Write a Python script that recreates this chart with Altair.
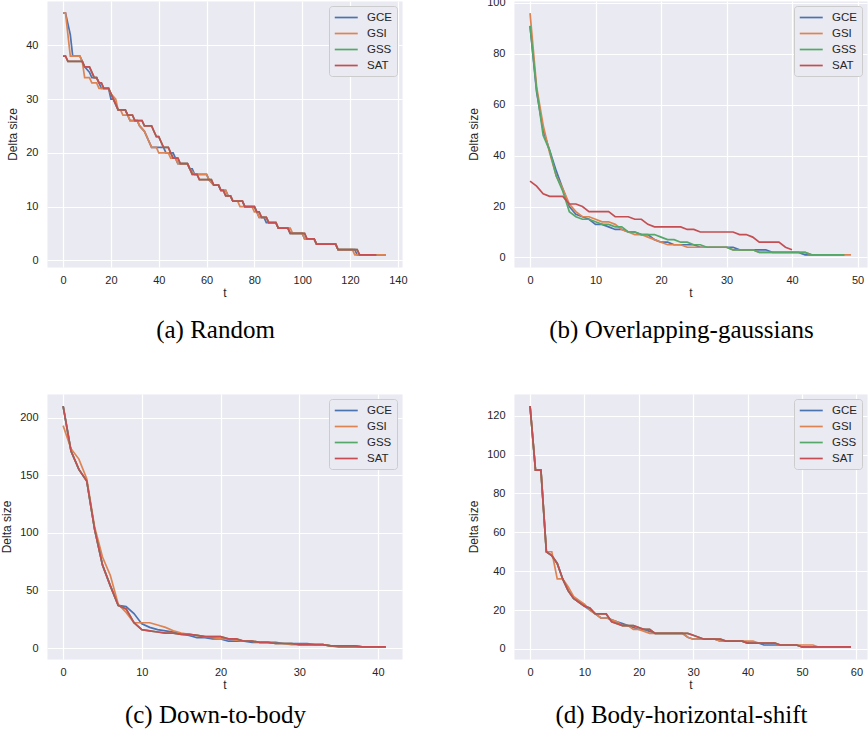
import altair as alt
import pandas as pd

SERIES = ["GCE", "GSI", "GSS", "SAT"]
COLORS = ["#4C72B0", "#DD8452", "#55A868", "#C44E52"]

# ---------------- (a) Random : corner points (t, value) ----------------
GCE_a_t = [0,1,2,3,4,7,8,9,11,12,14,15,16,19,20,21,22,23,26,27,28,31,32,34,35,37,42,43,46,47,48,52,53,54,55,60,61,63,65,66,68,69,70,71,75,76,80,81,82,84,85,89,90,94,95,100,101,105,106,114,115,122,123,135]
GCE_a_v = [46,46,44,42,38,38,37,36,35,34,34,33,32,32,30,30,29,28,28,27,26,26,25,24,23,21,21,20,20,19,18,18,17,17,16,16,15,14,14,13,13,12,12,11,11,10,10,9,8,8,7,7,6,6,5,5,4,4,3,3,2,2,1,1]
GSI_a_t = [0,1,3,7,8,9,11,12,14,15,19,20,22,23,24,25,27,28,31,32,34,35,37,39,40,44,45,47,48,52,53,55,60,61,63,65,66,68,69,70,71,73,74,79,80,81,82,85,86,89,90,95,96,100,101,105,106,114,115,121,122,135]
GSI_a_v = [46,46,38,38,37,34,34,33,33,32,32,31,30,28,28,27,27,26,26,25,24,23,21,21,20,20,19,19,18,18,17,16,16,15,14,14,13,13,12,12,11,11,10,10,9,9,8,8,7,7,6,6,5,5,4,4,3,3,2,2,1,1]
SAT_a_t = [0,1,2,8,9,11,12,13,14,15,16,17,19,20,21,22,23,26,27,29,30,33,34,37,38,39,40,41,42,44,45,46,48,49,52,53,54,56,57,62,63,65,66,67,68,70,71,75,76,80,81,82,83,85,86,89,90,94,95,101,102,105,106,114,115,123,124,131]
SAT_a_v = [38,38,37,37,36,36,35,34,34,33,33,32,32,31,30,29,28,28,27,27,26,26,25,25,24,23,23,22,21,21,20,19,19,18,18,17,16,16,15,15,14,14,13,13,12,12,11,11,10,10,9,9,8,8,7,7,6,6,5,5,4,4,3,3,2,2,1,1]
GSS_a_t = SAT_a_t
GSS_a_v = SAT_a_v

# ---------------- (b) Overlapping-gaussians : value per step t ----------------
GCE_b = [91,65,50,42,34,27,20,17,16,15,13,13,12,11,11,10,10,9,9,7,6,6,5,5,5,5,4,4,4,4,4,4,3,3,3,3,3,2,2,2,2,2,1,1,1,1,1,1,1]
GSI_b = [96,67,52,41,32,27,21,18,16,16,15,14,14,13,11,10,9,9,8,7,6,5,5,5,4,4,4,4,4,4,4,3,3,3,3,2,2,2,2,2,2,2,2,1,1,1,1,1,1,1]
GSS_b = [91,66,48,42,32,26,18,16,15,15,14,13,13,12,12,10,10,9,9,9,8,7,7,6,6,5,5,4,4,4,4,3,3,3,3,2,2,2,2,2,2,2,2,1,1,1,1,1,1]
SAT_b = [30,28,25,24,24,24,21,21,20,18,18,18,18,16,16,16,15,15,13,12,12,12,12,12,11,11,10,10,10,10,10,10,9,9,8,6,6,6,6,4,3]

# ---------------- (c) Down-to-body ----------------
GCE_c = [210,171,155,145,103,72,54,37,36,30,21,18,16,15,14,12,11,9,9,8,8,6,6,6,5,5,5,5,4,4,4,4,3,3,2,1,1,1,1,1,1,1]
GSI_c = [193,173,164,147,105,79,63,38,31,22,22,22,20,18,15,13,12,11,10,9,8,8,7,6,6,5,5,4,4,3,3,3,3,3,2,2,2,2,1,1]
SAT_c = [210,171,155,145,103,72,54,37,34,22,16,15,14,13,13,12,12,11,10,10,10,8,8,6,6,5,5,4,4,4,3,3,3,3,2,2,2,2,1,1,1,1]
GSS_c = SAT_c

# ---------------- (d) Body-horizontal-shift ----------------
GCE_d = [125,92,92,50,48,44,36,30,26,24,22,20,18,16,16,15,14,13,12,11,10,10,9,8,8,8,8,8,8,6,5,5,5,5,5,4,4,4,4,4,3,3,3,2,2,2,2,2,2,2,1,1,1,1,1,1,1,1,1,1]
GSI_d = [125,92,92,50,50,36,36,32,27,25,23,20,18,16,16,15,14,12,12,10,10,9,8,8,8,8,8,8,8,6,5,5,5,5,5,4,4,4,4,4,4,4,3,3,3,3,2,2,2,2,2,2,2,1]
SAT_d = [125,92,92,50,48,44,36,30,26,24,22,21,18,18,18,14,13,12,12,12,11,10,10,8,8,8,8,8,8,8,7,6,5,5,5,5,4,4,4,4,3,3,3,3,3,3,2,2,2,2,1,1,1,1,1,1,1,1,1,1]
GSS_d = SAT_d

X_TICKS = {"a": [0, 20, 40, 60, 80, 100, 120, 140], "b": [0, 10, 20, 30, 40, 50],
           "c": [0, 10, 20, 30, 40], "d": [0, 10, 20, 30, 40, 50, 60]}
Y_TICKS = {"a": [0, 10, 20, 30, 40], "b": [0, 20, 40, 60, 80, 100],
           "c": [0, 50, 100, 150, 200], "d": [0, 20, 40, 60, 80, 100, 120]}
CAPTIONS = {"a": "(a) Random", "b": "(b) Overlapping-gaussians",
            "c": "(c) Down-to-body", "d": "(d) Body-horizontal-shift"}


def frame_from_pairs(pairs):
    rows = []
    for name, ts, vs in pairs:
        for t, v in zip(ts, vs):
            rows.append({"t": t, "v": v, "series": name})
    return pd.DataFrame(rows)


def frame_from_lists(lists):
    return frame_from_pairs([(n, list(range(len(v))), v) for n, v in lists])


def domain(vals):
    lo, hi = min(vals), max(vals)
    m = (hi - lo) * 0.05
    return [lo - m, hi + m]


def panel(df, key, width, height, cap_offset):
    legend = alt.Legend(
        orient="top-right", offset=5, padding=4.5,
        fillColor="#EAEAF2", strokeColor="#CCCCCC", cornerRadius=3,
        symbolType="M-1,0H3", symbolSize=132, symbolStrokeWidth=1.7,
        labelFont="Liberation Sans", labelFontSize=11.5, labelColor="#262626",
        labelOffset=19.5, rowPadding=3,
    )
    return alt.Chart(df).mark_line(strokeWidth=1.7).encode(
        x=alt.X("t:Q", title="t",
                scale=alt.Scale(domain=domain(df["t"]), nice=False, zero=False),
                axis=alt.Axis(values=X_TICKS[key], labelPadding=7, titlePadding=2)),
        y=alt.Y("v:Q", title="Delta size",
                scale=alt.Scale(domain=domain(df["v"]), nice=False, zero=False),
                axis=alt.Axis(values=Y_TICKS[key], labelPadding=9, titlePadding=6)),
        color=alt.Color("series:N", title=None,
                        scale=alt.Scale(domain=SERIES, range=COLORS), legend=legend),
    ).properties(
        width=width, height=height,
        title=alt.TitleParams(CAPTIONS[key], orient="bottom", anchor="middle",
                              frame="group", dx=-9, offset=cap_offset),
    )


df_a = frame_from_pairs([("GCE", GCE_a_t, GCE_a_v), ("GSI", GSI_a_t, GSI_a_v),
                         ("GSS", GSS_a_t, GSS_a_v), ("SAT", SAT_a_t, SAT_a_v)])
df_b = frame_from_lists([("GCE", GCE_b), ("GSI", GSI_b), ("GSS", GSS_b), ("SAT", SAT_b)])
df_c = frame_from_lists([("GCE", GCE_c), ("GSI", GSI_c), ("GSS", GSS_c), ("SAT", SAT_c)])
df_d = frame_from_lists([("GCE", GCE_d), ("GSI", GSI_d), ("GSS", GSS_d), ("SAT", SAT_d)])

pa = panel(df_a, "a", 355, 266, 20)
pb = panel(df_b, "b", 353, 266, 20)
pc = panel(df_c, "c", 355, 265, 13)
pd_ = panel(df_d, "d", 353, 265, 13)

chart = alt.concat(
    pa, pb, pc, pd_, columns=2, bounds="flush",
    spacing={"row": 127, "column": 112},
).resolve_scale(
    x="independent", y="independent", color="independent",
).resolve_legend(color="independent").properties(
    padding={"left": 0, "top": -4, "right": 0, "bottom": 6},
    background="white",
).configure_axis(
    domain=False, ticks=False, grid=True, gridColor="white", gridWidth=1.2,
    labelFont="Liberation Sans", labelFontSize=11, labelColor="#262626",
    titleFont="Liberation Sans", titleFontSize=12, titleFontWeight="normal",
    titleColor="#262626",
).configure_view(
    fill="#EAEAF2", stroke="transparent",
).configure_title(
    font="Liberation Serif", fontSize=25, fontWeight="normal", color="black",
)

chart.save("out.html", embed_options={"renderer": "svg", "actions": False})
